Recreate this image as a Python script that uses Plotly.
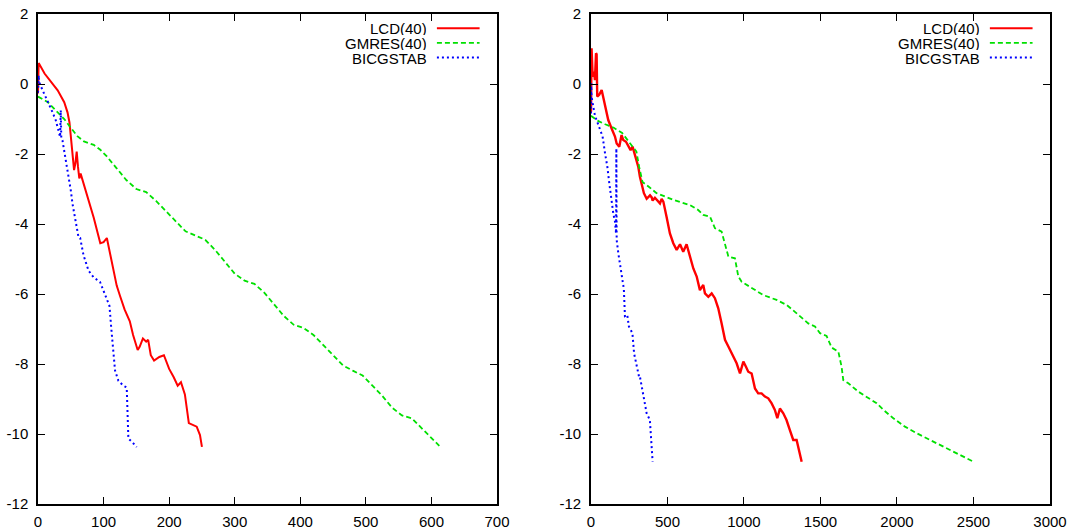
import plotly.graph_objects as go

# ---------------- Left panel data ----------------
lcd_l_x = [0, 1, 10, 20, 30, 40, 45, 48, 50, 52, 55, 57, 59, 61, 63, 65, 68, 75, 85, 95, 100, 105, 110, 115, 120,
           125, 132, 140, 145, 152, 155, 160, 165, 168, 172, 177, 185, 192, 200, 207, 213, 218, 224, 230, 235, 242,
           247, 250]
lcd_l_y = [-0.27, 0.6, 0.30, 0.06, -0.18, -0.52, -0.81, -1.1, -1.5, -1.98, -2.46, -2.27, -1.93, -2.37, -2.7, -2.56,
           -2.75, -3.24, -3.82, -4.55, -4.52, -4.4, -4.89, -5.37, -5.76, -6.05, -6.44, -6.78, -7.17, -7.6, -7.51,
           -7.27, -7.36, -7.31, -7.75, -7.9, -7.8, -7.75, -8.14, -8.38, -8.62, -8.52, -8.87, -9.69, -9.74, -9.79,
           -10.03, -10.37]

gm_l_x = [0, 15, 30, 40, 50, 60, 70, 85, 95, 105, 120, 135, 150, 165, 180, 195, 210, 225, 240, 255, 270, 285, 300,
          315, 330, 345, 360, 375, 390, 405, 420, 435, 450, 465, 480, 495, 510, 525, 540, 555, 570, 585, 600, 612]
gm_l_y = [-0.36, -0.52, -0.81, -1.0, -1.25, -1.49, -1.64, -1.74, -1.88, -2.07, -2.41, -2.75, -3.0, -3.09, -3.34,
          -3.63, -3.92, -4.21, -4.33, -4.45, -4.74, -5.08, -5.42, -5.62, -5.71, -5.96, -6.3, -6.63, -6.88, -6.97,
          -7.17, -7.46, -7.75, -8.04, -8.19, -8.33, -8.62, -8.91, -9.25, -9.47, -9.55, -9.84, -10.13, -10.34]

bi_l_x = [0, 1, 1.5, 9.2, 16.8, 22, 27, 30.6, 33.7, 34.7, 35.5, 37.3, 42.4, 44.9, 47.5, 50, 52.6, 55.1, 57.7, 61.8,
          64.3, 69.4, 77, 84.6, 94.7, 99.8, 104.9, 109, 111.5, 114, 117.5, 122.6, 130.2, 135.3, 137.8, 142.9, 150.5]
bi_l_y = [-0.25, 0.25, 0.06, -0.27, -0.56, -0.8, -1.03, -1.32, -1.51, -0.75, -1.55, -1.61, -2.18, -2.37, -2.75,
          -3.04, -3.42, -3.71, -3.99, -4.38, -4.4, -4.89, -5.33, -5.52, -5.66, -5.91, -6.1, -6.34, -6.93, -7.41,
          -8.19, -8.48, -8.62, -8.67, -10.13, -10.22, -10.37]

# ---------------- Right panel data ----------------
lcd_r_x = [0, 4, 11, 20, 26, 33, 37, 41, 54, 70, 81, 92, 113, 135, 157, 168, 185, 200, 211, 229, 244, 259, 272,
           281, 298, 309, 320, 331, 346, 364, 386, 397, 403, 418, 429, 440, 451, 462, 473, 494, 516, 538, 560,
           582, 603, 625, 647, 669, 691, 712, 734, 745, 767, 789, 810, 832, 854, 876, 898, 930, 952, 974, 996,
           1013, 1028, 1050, 1072, 1093, 1115, 1137, 1159, 1180, 1202, 1218, 1235, 1257, 1278, 1300, 1322, 1344,
           1355, 1377]
lcd_r_y = [-0.8, 1.02, 0.21, 0.35, 0.11, 0.88, 0.85, -0.36, -0.31, -0.17, -0.41, -0.65, -1.03, -1.27, -1.5, -1.7,
           -1.79, -1.46, -1.6, -1.65, -1.79, -1.89, -1.79, -1.93, -2.17, -2.36, -2.65, -2.87, -3.12, -3.28, -3.18,
           -3.24, -3.33, -3.25, -3.3, -3.38, -3.41, -3.28, -3.36, -3.79, -4.27, -4.55, -4.74, -4.58, -4.79, -4.58,
           -4.93, -5.27, -5.5, -5.89, -5.74, -5.98, -6.08, -5.98, -6.12, -6.41, -6.84, -7.31, -7.5, -7.79, -7.98,
           -8.27, -7.93, -8.08, -8.22, -8.27, -8.7, -8.84, -8.84, -8.93, -8.98, -9.12, -9.31, -9.55, -9.27, -9.41,
           -9.6, -9.89, -10.17, -10.17, -10.36, -10.79]

gm_r_x = [0, 49, 93, 149, 204, 237, 271, 297, 315, 337, 382, 429, 538, 647, 701, 734, 778, 810, 854, 876, 898,
          941, 963, 985, 1039, 1126, 1213, 1278, 1333, 1387, 1420, 1464, 1497, 1540, 1573, 1617, 1638, 1649, 1682,
          1747, 1801, 1867, 1911, 1976, 2052, 2129, 2216, 2325, 2412, 2499]
gm_r_y = [-0.91, -1.06, -1.15, -1.25, -1.4, -1.59, -1.78, -1.93, -2.37, -2.8, -2.95, -3.12, -3.31, -3.46, -3.6,
          -3.74, -3.79, -4.12, -4.22, -4.6, -4.93, -4.98, -5.5, -5.65, -5.79, -6.03, -6.17, -6.31, -6.51, -6.7,
          -6.84, -6.93, -7.12, -7.2, -7.53, -7.65, -8.08, -8.46, -8.55, -8.79, -8.93, -9.12, -9.31, -9.55, -9.79,
          -9.98, -10.17, -10.41, -10.6, -10.79]

bi_r_x = [0, 2, 4, 15, 26, 41, 59, 76, 92, 107, 120, 135, 146, 157, 164, 166, 167, 168, 179, 194, 204, 215, 222,
          237, 248, 271, 282, 300, 315, 320, 342, 364, 385, 396, 403]
bi_r_y = [-0.84, 0.02, -0.36, -0.65, -0.9, -1.08, -1.31, -1.5, -1.98, -2.36, -2.84, -3.41, -3.7, -3.93, -4.27,
          -1.84, -3.5, -4.46, -4.84, -5.22, -5.47, -5.86, -6.63, -6.59, -6.93, -7.12, -7.7, -8.09, -8.38, -8.36,
          -8.93, -9.41, -9.6, -10.27, -10.79]

names = ["LCD(40)", "GMRES(40)", "BICGSTAB"]
colors = ["#ff0000", "#00e000", "#0000ff"]
dashes = ["solid", "5px,3px", "2px,3px"]
widths = [2, 1.8, 2]
widths_right = [2.4, 1.8, 2]

y_ticks = [2, 0, -2, -4, -6, -8, -10, -12]
y_ticktext = ["2", "0", "-2", "-4", "-6", "-8", "-10", "-12"]
x_ticks_left = [0, 100, 200, 300, 400, 500, 600, 700]
x_ticks_right = [0, 500, 1000, 1500, 2000, 2500, 3000]

fig = go.Figure()
panels = [
    ("x", "y", widths, [(lcd_l_x, lcd_l_y), (gm_l_x, gm_l_y), (bi_l_x, bi_l_y)]),
    ("x2", "y2", widths_right, [(lcd_r_x, lcd_r_y), (gm_r_x, gm_r_y), (bi_r_x, bi_r_y)]),
]
for xa, ya, wds, series in panels:
    for i, (xs, ys) in enumerate(series):
        fig.add_trace(go.Scatter(x=xs, y=ys, xaxis=xa, yaxis=ya, mode="lines", name=names[i],
                                 showlegend=False,
                                 line=dict(color=colors[i], width=wds[i], dash=dashes[i])))

font = dict(family="Liberation Sans, Arial, sans-serif", size=15, color="black")
axis_common = dict(showline=True, linecolor="black", linewidth=1.5, mirror="allticks", ticks="inside",
                   ticklen=7, tickwidth=1.2, tickcolor="black", showgrid=False, zeroline=False,
                   tickfont=font, automargin=False)

fig.update_layout(
    width=1073, height=532,
    margin=dict(l=38, r=23, t=14, b=28),
    paper_bgcolor="white", plot_bgcolor="white",
    showlegend=False,
    xaxis=dict(domain=[0, 0.4536], range=[0, 700], tickvals=x_ticks_left, anchor="y",
               ticklabelstandoff=3, **axis_common),
    yaxis=dict(domain=[0, 1], range=[-12, 2], tickvals=y_ticks, ticktext=y_ticktext, anchor="x",
               ticklabelstandoff=5, **axis_common),
    xaxis2=dict(domain=[0.5464, 1], range=[0, 3000], tickvals=x_ticks_right, anchor="y2",
                ticklabelstandoff=3, **axis_common),
    yaxis2=dict(domain=[0, 1], range=[-12, 2], tickvals=y_ticks, ticktext=y_ticktext, anchor="x2",
                ticklabelstandoff=5, **axis_common),
)

# gnuplot-style key: right-aligned text, line sample on the right
key_y = [0.971, 0.941, 0.911]
for xa, ya in [("x", "y"), ("x2", "y2")]:
    for i in range(3):
        fig.add_annotation(text=names[i], xref=f"{xa} domain", yref=f"{ya} domain",
                           x=0.849, y=key_y[i], xanchor="right", yanchor="middle",
                           showarrow=False, font=font, height=14, borderpad=0)
        fig.add_shape(type="line", xref=f"{xa} domain", yref=f"{ya} domain",
                      x0=0.869, x1=0.962, y0=key_y[i], y1=key_y[i],
                      line=dict(color=colors[i], width=widths[i], dash=dashes[i]))

fig.write_html("out.html", config={"displayModeBar": False},
               post_script="document.body.style.margin='0';document.body.style.overflow='hidden';")
